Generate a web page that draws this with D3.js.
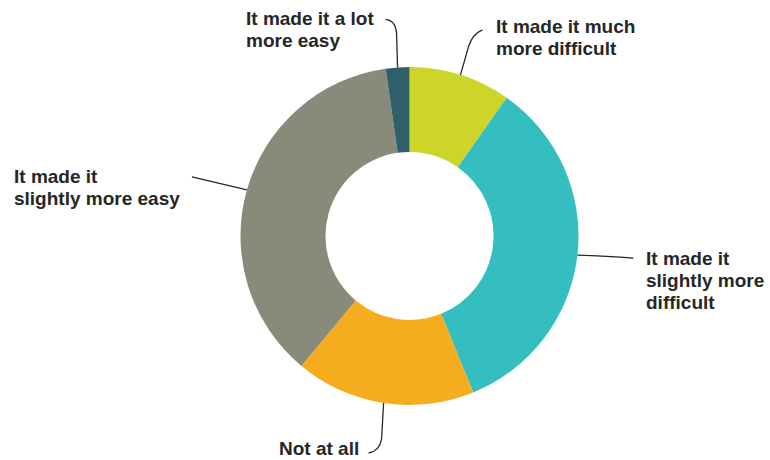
<!DOCTYPE html>
<html>
<head>
<meta charset="utf-8">
<script src="https://cdn.jsdelivr.net/npm/d3@7"></script>
<style>
  html, body { margin: 0; padding: 0; background: #fff; }
  svg { display: block; }
  text { font-family: "Liberation Sans", Arial, sans-serif; font-weight: bold; font-size: 19px; fill: #262626; }
</style>
</head>
<body>
<svg id="chart" width="770" height="460"></svg>
<script>
// Data (clockwise from 12 o'clock)
const categories = [
  "It made it much more difficult",
  "It made it slightly more difficult",
  "Not at all",
  "It made it slightly more easy",
  "It made it a lot more easy"
];
const values = [9.75, 34.1, 17.2, 36.7, 2.25];
const colors = ["#cdd42a", "#34bec0", "#f5ad1f", "#8a8a7a", "#2e5f6b"];
const labelLines = [
  ["It made it much", "more difficult"],
  ["It made it", "slightly more", "difficult"],
  ["Not at all"],
  ["It made it", "slightly more easy"],
  ["It made it a lot", "more easy"]
];

// Layout
const cx = 409.5, cy = 236, outerR = 169, innerR = 84;
const lineH = 22;
const labelPos = [
  { x: 496, y: 33 },
  { x: 646, y: 265 },
  { x: 279, y: 455 },
  { x: 14, y: 183 },
  { x: 246, y: 25 }
];

const svg = d3.select("#chart");
const g = svg.append("g").attr("transform", `translate(${cx},${cy})`);

const pie = d3.pie().sort(null).value(d => d.value);
const arcs = pie(categories.map((c, i) => ({ name: c, value: values[i], i })));
const arc = d3.arc().innerRadius(innerR).outerRadius(outerR);

g.selectAll("path.slice")
  .data(arcs)
  .join("path")
  .attr("class", "slice")
  .attr("d", arc)
  .attr("fill", d => colors[d.data.i]);

function edgePoint(d) {
  const a = (d.startAngle + d.endAngle) / 2;
  return [cx + outerR * Math.sin(a), cy - outerR * Math.cos(a)];
}
const leaderBuilders = [
  (s) => `M${s[0]},${s[1]} L${s[0] + 8},${s[1] - 28} Q${s[0] + 12},${s[1] - 41} ${s[0] + 22},${s[1] - 45}`,
  (s) => `M${s[0]},${s[1]} Q${s[0] + 30},${s[1] + 1} ${s[0] + 56},${s[1] + 3}`,
  (s) => `M${s[0]},${s[1]} L${s[0] - 2},${s[1] + 36} Q${s[0] - 4},${s[1] + 48} ${s[0] - 15},${s[1] + 50}`,
  (s) => `M${s[0]},${s[1]} L${s[0] - 55},${s[1] - 13}`,
  (s) => `M${s[0]},${s[1]} L${s[0] - 1},${s[1] - 34} Q${s[0] - 2},${s[1] - 47} ${s[0] - 12},${s[1] - 48}`
];

svg.selectAll("path.leader")
  .data(arcs)
  .join("path")
  .attr("class", "leader")
  .attr("d", d => leaderBuilders[d.data.i](edgePoint(d)))
  .attr("fill", "none")
  .attr("stroke", "#262626")
  .attr("stroke-width", 1.3);

const labels = svg.selectAll("text.lbl")
  .data(arcs)
  .join("text")
  .attr("class", "lbl")
  .attr("x", d => labelPos[d.data.i].x)
  .attr("y", d => labelPos[d.data.i].y);

labels.selectAll("tspan")
  .data(d => labelLines[d.data.i].map((t, k) => ({ t, k, p: labelPos[d.data.i] })))
  .join("tspan")
  .attr("x", d => d.p.x)
  .attr("y", d => d.p.y + d.k * lineH)
  .text(d => d.t);
</script>
</body>
</html>
